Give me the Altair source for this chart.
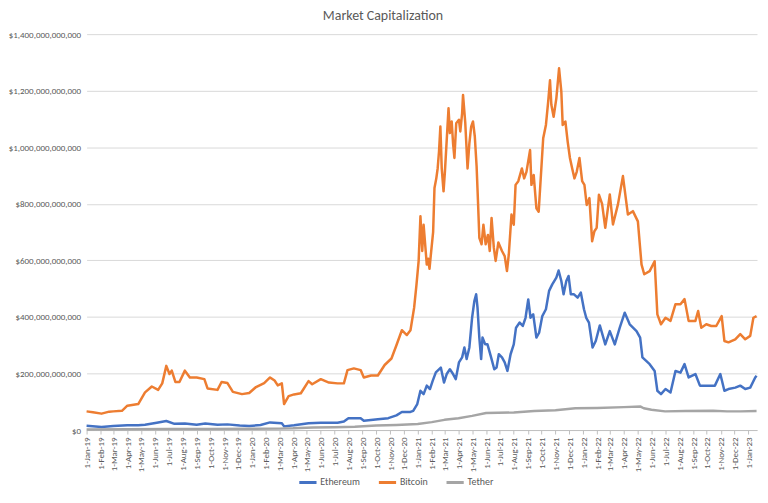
import altair as alt
import pandas as pd

series_names = ["Ethereum", "Bitcoin", "Tether"]
series_colors = ["#4472C4", "#ED7D31", "#A5A5A5"]

# values in billions of USD
btc_dates = [
    "2019-01-01", "2019-01-15", "2019-02-03", "2019-02-20", "2019-03-01", "2019-03-20", "2019-04-01", "2019-04-25",
    "2019-05-10", "2019-05-25", "2019-06-08", "2019-06-17", "2019-06-26", "2019-07-03", "2019-07-08", "2019-07-16",
    "2019-07-25", "2019-08-06", "2019-08-17", "2019-09-01", "2019-09-18", "2019-09-25", "2019-10-17", "2019-10-26",
    "2019-11-08", "2019-11-20", "2019-12-10", "2019-12-26", "2020-01-10", "2020-01-28", "2020-02-10", "2020-02-20",
    "2020-02-27", "2020-03-07", "2020-03-12", "2020-03-22", "2020-04-03", "2020-04-18", "2020-05-05", "2020-05-13",
    "2020-06-01", "2020-06-19", "2020-07-08", "2020-07-22", "2020-07-30", "2020-08-13", "2020-08-28", "2020-09-04",
    "2020-09-20", "2020-10-05", "2020-10-20", "2020-11-04", "2020-11-15", "2020-11-27", "2020-12-08", "2020-12-16",
    "2020-12-24", "2020-12-29", "2021-01-03", "2021-01-07", "2021-01-11", "2021-01-14", "2021-01-21", "2021-01-24",
    "2021-01-27", "2021-01-30", "2021-02-04", "2021-02-07", "2021-02-11", "2021-02-14", "2021-02-17", "2021-02-20",
    "2021-02-23", "2021-02-27", "2021-03-02", "2021-03-06", "2021-03-10", "2021-03-13", "2021-03-17", "2021-03-20",
    "2021-03-23", "2021-03-27", "2021-04-02", "2021-04-05", "2021-04-09", "2021-04-11", "2021-04-16", "2021-04-21",
    "2021-04-25", "2021-04-29", "2021-05-03", "2021-05-07", "2021-05-11", "2021-05-14", "2021-05-17", "2021-05-22",
    "2021-05-26", "2021-05-31", "2021-06-05", "2021-06-09", "2021-06-13", "2021-06-18", "2021-06-22", "2021-06-28",
    "2021-07-06", "2021-07-12", "2021-07-17", "2021-07-21", "2021-07-27", "2021-08-01", "2021-08-05", "2021-08-11",
    "2021-08-19", "2021-08-24", "2021-08-29", "2021-09-06", "2021-09-09", "2021-09-14", "2021-09-20", "2021-09-25",
    "2021-09-30", "2021-10-05", "2021-10-11", "2021-10-16", "2021-10-20", "2021-10-23", "2021-10-28", "2021-11-03",
    "2021-11-07", "2021-11-09", "2021-11-14", "2021-11-17", "2021-11-23", "2021-11-28", "2021-12-03", "2021-12-08",
    "2021-12-13", "2021-12-18", "2021-12-24", "2021-12-30", "2022-01-04", "2022-01-09", "2022-01-15", "2022-01-21",
    "2022-01-26", "2022-01-31", "2022-02-05", "2022-02-12", "2022-02-19", "2022-03-01", "2022-03-08", "2022-03-19",
    "2022-03-30", "2022-04-10", "2022-04-21", "2022-05-02", "2022-05-10", "2022-05-16", "2022-05-28", "2022-06-08",
    "2022-06-14", "2022-06-22", "2022-07-02", "2022-07-13", "2022-07-24", "2022-08-04", "2022-08-13", "2022-08-22",
    "2022-09-06", "2022-09-12", "2022-09-19", "2022-09-30", "2022-10-11", "2022-10-22", "2022-11-03", "2022-11-09",
    "2022-11-18", "2022-12-03", "2022-12-14", "2022-12-25", "2023-01-05", "2023-01-12", "2023-01-19",
]
btc_values = [
    66, 63, 58, 65, 66, 68, 86, 92,
    133, 154, 142, 165, 227, 198, 210, 170,
    170, 210, 186, 186, 180, 147, 142, 170,
    166, 135, 127, 131, 152, 166, 186, 175,
    158, 165, 92, 120, 126, 130, 173, 162,
    180, 168, 165, 165, 212, 218, 212, 186,
    193, 193, 230, 253, 300, 353, 336, 353,
    432, 510, 597, 756, 633, 726, 585, 606,
    570, 620, 700, 856, 890, 925, 985, 1073,
    925, 844, 913, 1025, 1138, 1050, 1091, 1014,
    962, 1085, 1097, 1056, 1120, 1185, 1085, 925,
    1014, 1073, 1091, 1038, 932, 810, 680, 657,
    726, 657, 690, 633, 750, 645, 598, 663,
    633, 615, 562, 620, 762, 726, 867, 880,
    925, 890, 913, 990, 867, 902, 784, 772,
    902, 1032, 1079, 1161, 1237, 1150, 1108, 1173,
    1243, 1279, 1197, 1079, 1091, 1020, 962, 925,
    890, 913, 962, 880, 867, 796, 820, 668,
    703, 715, 832, 800, 715, 833, 727, 798,
    898, 762, 774, 738, 586, 551, 562, 597,
    409, 374, 397, 386, 445, 445, 463, 386,
    386, 421, 362, 374, 368, 368, 403, 315,
    310, 321, 339, 321, 333, 397, 403,
]

eth_dates = [
    "2019-01-01", "2019-02-03", "2019-03-01", "2019-04-01", "2019-04-25", "2019-05-10", "2019-06-05", "2019-06-26",
    "2019-07-14", "2019-08-06", "2019-09-01", "2019-09-20", "2019-10-17", "2019-11-08", "2019-12-05", "2019-12-26",
    "2020-01-20", "2020-02-10", "2020-02-27", "2020-03-07", "2020-03-12", "2020-04-03", "2020-05-05", "2020-06-01",
    "2020-07-08", "2020-07-22", "2020-08-01", "2020-08-28", "2020-09-04", "2020-10-05", "2020-10-28", "2020-11-15",
    "2020-11-27", "2020-12-16", "2020-12-22", "2020-12-31", "2021-01-07", "2021-01-14", "2021-01-21", "2021-01-28",
    "2021-02-03", "2021-02-10", "2021-02-21", "2021-02-28", "2021-03-06", "2021-03-13", "2021-03-20", "2021-03-26",
    "2021-04-02", "2021-04-09", "2021-04-14", "2021-04-19", "2021-04-25", "2021-05-01", "2021-05-06", "2021-05-10",
    "2021-05-13", "2021-05-17", "2021-05-21", "2021-05-24", "2021-05-30", "2021-06-04", "2021-06-12", "2021-06-19",
    "2021-06-24", "2021-06-29", "2021-07-06", "2021-07-12", "2021-07-18", "2021-07-25", "2021-08-01", "2021-08-06",
    "2021-08-14", "2021-08-21", "2021-08-27", "2021-09-02", "2021-09-07", "2021-09-13", "2021-09-20", "2021-09-26",
    "2021-10-03", "2021-10-11", "2021-10-18", "2021-10-25", "2021-11-03", "2021-11-08", "2021-11-14", "2021-11-19",
    "2021-11-25", "2021-11-30", "2021-12-05", "2021-12-12", "2021-12-20", "2021-12-27", "2022-01-03", "2022-01-08",
    "2022-01-14", "2022-01-22", "2022-01-29", "2022-02-07", "2022-02-19", "2022-03-01", "2022-03-12", "2022-03-23",
    "2022-04-03", "2022-04-14", "2022-04-29", "2022-05-07", "2022-05-12", "2022-05-28", "2022-06-08", "2022-06-14",
    "2022-06-22", "2022-07-02", "2022-07-13", "2022-07-24", "2022-08-04", "2022-08-13", "2022-08-22", "2022-09-06",
    "2022-09-16", "2022-10-03", "2022-10-19", "2022-10-31", "2022-11-09", "2022-11-18", "2022-12-03", "2022-12-14",
    "2022-12-25", "2023-01-05", "2023-01-16", "2023-01-19",
]
eth_values = [
    15, 11, 14, 17, 17, 19, 26, 32,
    22, 23, 19, 23, 19, 20, 16, 14,
    18, 27, 25, 24, 13, 17, 24, 26,
    26, 30, 42, 42, 33, 38, 42, 52,
    64, 64, 68, 92, 139, 127, 157, 145,
    174, 204, 221, 168, 198, 215, 198, 180,
    239, 257, 292, 251, 292, 397, 456, 480,
    433, 327, 251, 327, 303, 303, 257, 215,
    221, 268, 257, 239, 209, 268, 303, 362,
    380, 368, 397, 462, 397, 409, 327, 344,
    403, 427, 492, 515, 539, 564, 527, 480,
    527, 545, 480, 480, 468, 486, 427, 397,
    380, 292, 315, 370, 303, 350, 303, 362,
    415, 374, 350, 327, 257, 233, 209, 139,
    127, 145, 133, 209, 203, 233, 186, 198,
    157, 157, 157, 198, 139, 145, 150, 157,
    145, 150, 186, 192,
]

usdt_dates = [
    "2019-01-01", "2019-04-01", "2019-07-01", "2019-10-01", "2020-01-01", "2020-03-01", "2020-04-01", "2020-05-15",
    "2020-07-01", "2020-08-15", "2020-10-01", "2020-11-15", "2021-01-01", "2021-02-01", "2021-03-01", "2021-04-01",
    "2021-05-01", "2021-06-01", "2021-08-01", "2021-09-15", "2021-11-01", "2021-12-15", "2022-02-01", "2022-04-01",
    "2022-05-08", "2022-05-15", "2022-06-01", "2022-07-01", "2022-08-15", "2022-10-15", "2022-11-15", "2022-12-15",
    "2023-01-19",
]
usdt_values = [
    2, 3, 4, 4, 4.5, 5, 6, 9,
    10, 12, 16, 18, 21, 28, 36, 42,
    50, 60, 62, 67, 70, 77, 78, 81,
    83, 77, 72, 66, 67, 68, 66, 66,
    67,
]

y_ticks_b = [0, 200, 400, 600, 800, 1000, 1200, 1400]
month_ticks = [f"{y}-{m:02d}-01" for y in range(2019, 2023) for m in range(1, 13)] + ["2023-01-01"]

rows = []
for name, ds, vs in [("Ethereum", eth_dates, eth_values),
                     ("Bitcoin", btc_dates, btc_values),
                     ("Tether", usdt_dates, usdt_values)]:
    for d, v in zip(ds, vs):
        rows.append({"date": d, "series": name, "value": v * 1e9})
df = pd.DataFrame(rows)


def ms(s):
    return int(pd.Timestamp(s, tz="UTC").value // 10**6)


tick_ms = [ms(s) for s in month_ticks]
x_domain = [ms("2019-01-01"), ms("2023-01-20")]

FONT = "Carlito, 'Liberation Sans Narrow', 'Liberation Sans', sans-serif"
TXT = "#595959"

chart = alt.Chart(df).mark_line(strokeWidth=2.5, strokeJoin="round").encode(
    x=alt.X(
        "date:T",
        scale=alt.Scale(type="utc", domain=x_domain),
        axis=alt.Axis(
            values=tick_ms, format="%-d-%b-%y", labelAngle=270, labelFontSize=9,
            labelColor=TXT, labelFont=FONT, tickColor="#BFBFBF", tickSize=4,
            domainColor="#BFBFBF", grid=False, title=None, labelPadding=3,
            labelOverlap=False, labelFlush=False, labelBound=False,
        ),
    ),
    y=alt.Y(
        "value:Q",
        scale=alt.Scale(domain=[0, 1.4e12], nice=False),
        axis=alt.Axis(
            values=[v * 1e9 for v in y_ticks_b], format="$,.0f", labelFontSize=9,
            labelColor=TXT, labelFont=FONT, domain=False, ticks=False,
            gridColor="#D9D9D9", title=None, labelPadding=6,
        ),
    ),
    color=alt.Color(
        "series:N",
        scale=alt.Scale(domain=series_names, range=series_colors),
        legend=alt.Legend(
            orient="none", legendX=212, legendY=440, direction="horizontal",
            title=None, symbolType="stroke", symbolSize=300, symbolStrokeWidth=3,
            labelFontSize=10, labelColor=TXT, labelFont=FONT, columnPadding=12,
            labelOffset=2, padding=0,
        ),
    ),
).properties(
    width=674,
    height=398,
    padding={"left": 0, "top": 0, "right": 2, "bottom": 0},
    title=alt.TitleParams(
        "Market Capitalization", fontSize=14, color=TXT, font=FONT,
        fontWeight="normal", anchor="middle", frame="bounds", offset=7,
    ),
).configure_view(stroke=None)

chart.save("out.html", embed_options={"renderer": "svg", "actions": False})
